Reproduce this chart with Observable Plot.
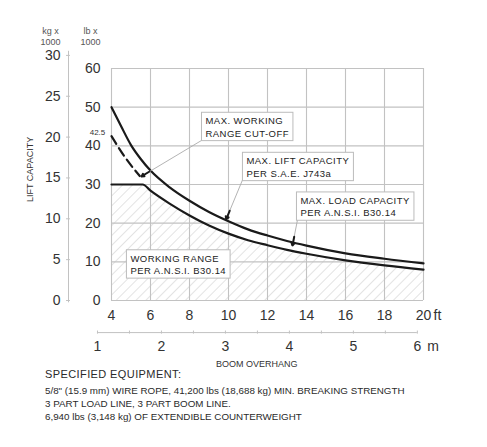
<!DOCTYPE html>
<html>
<head>
<meta charset="utf-8">
<script src="https://cdn.jsdelivr.net/npm/d3@7"></script>
<script src="https://cdn.jsdelivr.net/npm/@observablehq/plot@0.6"></script>
<style>
  html, body { margin: 0; padding: 0; background: #fff; }
  #chart svg { display: block; }
  #caption { font-family: "Liberation Sans", Arial, sans-serif; color: #2a2a2a; padding-left: 45px; }
  #caption .head { font-size: 11px; letter-spacing: 0.4px; line-height: 13px; margin-bottom: 3px; }
  #caption .line { font-size: 9.8px; line-height: 13px; }
</style>
</head>
<body>
<div id="chart"></div>
<div id="caption"></div>
<script>
// ---- data ----
const ftTicks = [4, 6, 8, 10, 12, 14, 16, 18, 20];
const lbTicks = [0, 10, 20, 30, 40, 50, 60];
const kgTicks = [0, 5, 10, 15, 20, 25, 30];
const mTicks = [1, 2, 3, 4, 5, 6];
const mMinorTicks = [1, 1.5, 2, 2.5, 3, 3.5, 4, 4.5, 5, 5.5, 6];

// Max. lift capacity per S.A.E. J743a (upper curve), lb x 1000
const liftOverhangFt = [4, 4.5, 5, 5.5, 6, 7, 8, 9, 10, 11, 12, 13, 14, 16, 18, 20];
const liftCapacityLb = [50, 45, 40.2, 36.6, 33.6, 29.2, 25.8, 22.9, 20.5, 18.4, 16.8, 15.4, 14.2, 12.2, 10.8, 9.6];

// Max. load capacity per A.N.S.I. B30.14 (lower curve), lb x 1000
const loadOverhangFt = [4, 5, 5.6, 6, 7, 8, 9, 10, 11, 12, 13, 14, 16, 18, 20];
const loadCapacityLb = [30, 30, 30, 28.4, 25.0, 22.0, 19.4, 17.3, 15.6, 14.3, 13.1, 12.1, 10.4, 9.1, 8.0];

// dashed continuation above the working range cut-off
const cutoffOverhangFt = [4, 4.7, 5.45];
const cutoffCapacityLb = [42.5, 37, 32.2];

const captionHead = "SPECIFIED EQUIPMENT:";
const captionLines = [
  "5/8\" (15.9 mm) WIRE ROPE, 41,200 lbs (18,688 kg) MIN. BREAKING STRENGTH",
  "3 PART LOAD LINE, 3 PART BOOM LINE.",
  "6,940 lbs (3,148 kg) OF EXTENDIBLE COUNTERWEIGHT"
];

const notes = [
  {ft: 8.82, lb: 45.0, text: "MAX. WORKING\nRANGE CUT-OFF"},
  {ft: 10.92, lb: 34.65, text: "MAX. LIFT CAPACITY\nPER S.A.E. J743a"},
  {ft: 13.69, lb: 24.4, text: "MAX. LOAD CAPACITY\nPER A.N.S.I. B30.14"},
  {ft: 4.97, lb: 9.44, text: "WORKING RANGE\nPER A.N.S.I. B30.14"}
];
const leaders = [
  {x1: 8.62, y1: 41.4, x2: 5.54, y2: 32.1, bx: 5.93, by: 33.3},
  {x1: 10.77, y1: 31.8, x2: 9.88, y2: 21.0, bx: 10.06, by: 23.2},
  {x1: 13.54, y1: 20.9, x2: 13.28, y2: 14.2, bx: 13.37, by: 16.5}
];

// ---- derived ----
const FT_PER_M = 3.28084;
const KG_TO_Y = 2.113;      // kg axis drawn on lb scale
const KG_AXIS_X = 1.795;    // ft position of the kg axis
const M_AXIS_Y = -8.3;      // lb position of the metre axis

const lift = liftOverhangFt.map((x, i) => ({x, y: liftCapacityLb[i]}));
const load = loadOverhangFt.map((x, i) => ({x, y: loadCapacityLb[i]}));
const cutoff = cutoffOverhangFt.map((x, i) => ({x, y: cutoffCapacityLb[i]}));

const gridColor = "#c2c2c2";
const ink = "#1a1a1a";

const plot = Plot.plot({
  width: 487,
  height: 368,
  marginLeft: 111,
  marginRight: 64,
  marginTop: 68,
  marginBottom: 68,
  style: {fontFamily: "'Liberation Sans', Arial, sans-serif", color: "#333", background: "#fff", overflow: "visible"},
  x: {type: "linear", domain: [4, 20]},
  y: {type: "linear", domain: [0, 60]},
  marks: [
    Plot.areaY(load, {x: "x", y: "y", fill: "url(#hatch)", curve: "monotone-x"}),
    Plot.ruleX(ftTicks, {x: d => d, y1: 0, y2: 60, stroke: gridColor, strokeWidth: 1.1}),
    Plot.ruleY(lbTicks, {y: d => d, x1: 4, x2: 20, stroke: gridColor, strokeWidth: 1.1}),
    Plot.axisY(lbTicks, {tickSize: 0, tickPadding: 11, fontSize: 14, label: null}),
    Plot.axisX(ftTicks, {tickSize: 0, tickPadding: 10, fontSize: 14, label: null}),
    Plot.text(["ft"], {x: () => 20, frameAnchor: "bottom", dy: 15, dx: 10, textAnchor: "start", lineAnchor: "middle", fontSize: 14, fill: "#333"}),
    // kg axis
    Plot.ruleX([KG_AXIS_X], {x: d => d, y1: -0.6, y2: 30.5 * KG_TO_Y, stroke: gridColor}),
    Plot.ruleY(kgTicks, {y: d => d * KG_TO_Y, x1: KG_AXIS_X - 0.1, x2: KG_AXIS_X + 0.1, stroke: gridColor}),
    Plot.text(kgTicks, {x: () => KG_AXIS_X, y: d => d * KG_TO_Y, text: d => String(d), textAnchor: "end", dx: -8, fontSize: 14, fill: "#333"}),
    Plot.text(["kg x\n1000"], {x: () => 0.87, y: () => 68.4, fontSize: 9, fill: "#555", lineHeight: 1.2}),
    Plot.text(["lb x\n1000"], {x: () => 2.92, y: () => 68.4, fontSize: 9, fill: "#555", lineHeight: 1.2}),
    Plot.text(["LIFT CAPACITY"], {x: () => -0.15, y: () => 33.9, rotate: -90, fontSize: 9, fill: "#333"}),
    // metre axis
    Plot.ruleY([M_AXIS_Y], {y: d => d, x1: 1 * FT_PER_M, x2: 6 * FT_PER_M, stroke: gridColor}),
    Plot.ruleX(mMinorTicks, {x: d => d * FT_PER_M, y1: M_AXIS_Y - 0.4, y2: M_AXIS_Y + 0.4, stroke: gridColor}),
    Plot.text(mTicks, {x: d => d * FT_PER_M, y: () => M_AXIS_Y - 3.6, text: d => String(d), fontSize: 14, fill: "#333"}),
    Plot.text(["m"], {x: () => 6 * FT_PER_M, y: () => M_AXIS_Y - 3.6, dx: 10, textAnchor: "start", fontSize: 14, fill: "#333"}),
    Plot.text(["BOOM OVERHANG"], {x: () => 11.45, y: () => -16.5, fontSize: 9, fill: "#333"}),
    // curves
    Plot.line(cutoff, {x: "x", y: "y", stroke: ink, strokeWidth: 2.2, strokeDasharray: "9,5", curve: "monotone-x"}),
    Plot.line(lift, {x: "x", y: "y", stroke: ink, strokeWidth: 2.2, curve: "monotone-x"}),
    Plot.line(load, {x: "x", y: "y", stroke: ink, strokeWidth: 2.2, curve: "monotone-x"}),
    Plot.text(["42.5"], {x: () => 3.28, y: () => 43.4, fontSize: 8, fill: "#333"}),
    // leaders
    Plot.link(leaders, {x1: "x1", y1: "y1", x2: "x2", y2: "y2", stroke: "#aaa", strokeWidth: 0.9}),
    Plot.arrow(leaders, {x1: "bx", y1: "by", x2: "x2", y2: "y2", stroke: ink, strokeWidth: 2, headLength: 6}),
    // notes
    Plot.text(notes, {x: "ft", y: "lb", text: "text", textAnchor: "start", lineAnchor: "middle", lineHeight: 1.3, fontSize: 9.5, fill: "#222", className: "note"})
  ]
});

document.getElementById("chart").appendChild(plot);

// hatch pattern
const svg = d3.select(plot);
const defs = svg.insert("defs", ":first-child");
const pat = defs.append("pattern")
  .attr("id", "hatch").attr("patternUnits", "userSpaceOnUse")
  .attr("width", 7).attr("height", 7)
  .attr("patternTransform", "rotate(45)");
pat.append("line").attr("x1", 0).attr("y1", 0).attr("x2", 0).attr("y2", 7)
  .attr("stroke", "#c8c8c8").attr("stroke-width", 1);

// boxes behind notes
svg.selectAll("g.note text").each(function () {
  this.style.letterSpacing = "0.45px";
  const b = this.getBBox();
  const r = d3.select(this.parentNode).insert("rect", () => this)
    .attr("x", b.x - 4).attr("y", b.y - 3)
    .attr("width", b.width + 8).attr("height", b.height + 5)
    .attr("fill", "#fff").attr("stroke", "#bbb").attr("stroke-width", 1);
  const t = this.getAttribute("transform");
  if (t) r.attr("transform", t);
});

// caption
const cap = d3.select("#caption");
cap.append("div").attr("class", "head").text(captionHead);
captionLines.forEach(t => cap.append("div").attr("class", "line").text(t));
</script>
</body>
</html>
